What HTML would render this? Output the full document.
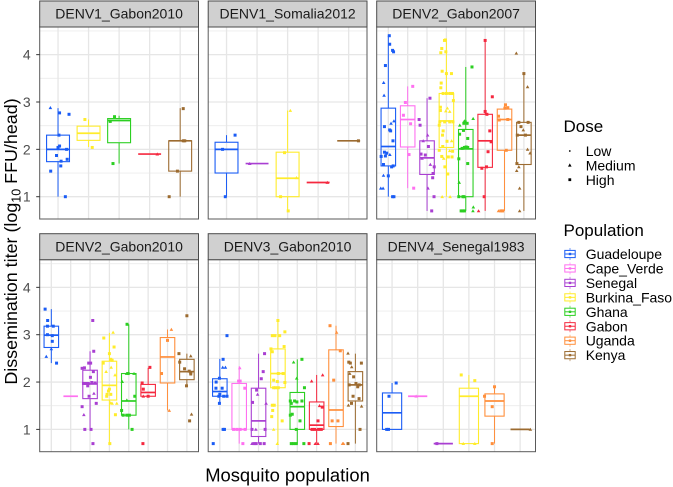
<!DOCTYPE html>
<html lang="en">
<head>
<meta charset="utf-8">
<title>Dissemination titer by mosquito population</title>
<style>
html,body{margin:0;padding:0;background:#fff;width:673px;height:487px;overflow:hidden}
svg{display:block}
text{font-family:"Liberation Sans",sans-serif}
</style>
</head>
<body>
<svg id="chart" xmlns="http://www.w3.org/2000/svg" width="673" height="487" viewBox="0 0 673 487">
  <rect width="673" height="487" fill="#fff"/>
  <g id="panels"></g>
  <text transform="translate(17,241.5) rotate(-90)" text-anchor="middle" font-size="17.9" fill="#000">Dissemination titer (log<tspan font-size="12.5" dy="3.5">10</tspan><tspan dy="-3.5"> FFU/head)</tspan></text>
  <text x="287.5" y="481.5" text-anchor="middle" font-size="18.4" fill="#000">Mosquito population</text>
  <g id="dose-legend">
    <text x="563.5" y="132" font-size="17">Dose</text>
    <circle cx="569.8" cy="151" r="0.9" fill="#000"/>
    <text x="585.7" y="156" font-size="14">Low</text>
    <polygon points="568,166.6 571.6,166.6 569.8,163.4" fill="#000"/>
    <text x="585.7" y="170.5" font-size="14">Medium</text>
    <rect x="568.4" y="178.3" width="2.8" height="2.8" fill="#000"/>
    <text x="585.7" y="185" font-size="14">High</text>
  </g>
  <g id="pop-legend">
    <text x="563.5" y="236" font-size="17">Population</text>
  </g>
</svg>
<script>
const populations = ["Guadeloupe","Cape_Verde","Senegal","Burkina_Faso","Ghana","Gabon","Uganda","Kenya"];
const popColors = ["#1a5cf5","#ff70f0","#a93fd2","#ffec2b","#2ccf22","#f5283f","#ff8f3c","#9c6b30"];
const yTicks = [1,2,3,4];
const yMinor = [1.5,2.5,3.5,4.5];
const facetNames = ["DENV1_Gabon2010","DENV1_Somalia2012","DENV2_Gabon2007","DENV2_Gabon2010","DENV3_Gabon2010","DENV4_Senegal1983"];

/* category indices shown on each facet */
const cats1 = [0,3,4,5,7];
const cats2 = [0,2,3,5,7];
const cats3 = [0,1,2,3,4,5,6,7];
const cats4 = [0,1,2,3,4,5,6,7];
const cats5 = [0,1,2,3,4,5,6,7];
const cats6 = [0,1,2,3,6,7];

/* box statistics: whisker low, q1, median, q3, whisker high (log10 titer) */
const stats1 = [[1,1.74,2,2.3,2.87],[2.05,2.19,2.34,2.49,2.63],[1.7,2.14,2.61,2.65,2.71],[1.9,1.9,1.9,1.9,1.9],[1,1.54,2.18,2.18,2.87]];
const stats2 = [[1,1.5,2,2.15,2.3],[1.7,1.7,1.7,1.7,1.7],[0.7,1,1.39,1.94,2.82],[1.3,1.3,1.3,1.3,1.3],[2.18,2.18,2.18,2.18,2.18]];
const stats3 = [[1,1.65,2.06,2.87,4.4],[1.18,2.05,2.63,2.92,3.33],[0.7,1.47,1.82,2.18,3.08],[1,2.04,2.6,3.18,4.31],[0.7,1,2.01,2.42,3.74],[0.7,1.62,2.18,2.74,4.3],[0.7,1.98,2.63,2.85,2.94],[0.7,1.68,2.3,2.57,3.6]];
const stats4 = [[2.4,2.73,2.99,3.18,3.54],[1.7,1.7,1.7,1.7,1.7],[1,1.65,1.96,2.25,2.65],[0.7,1.62,1.93,2.44,3.04],[1,1.3,1.6,2.18,3.22],[1.7,1.7,1.78,1.95,2.3],[1.4,1.98,2.53,2.94,3.11],[1.92,2.05,2.22,2.48,2.6]];
const stats5 = [[1.55,1.7,1.8,2.07,2.49],[0.7,1,1,1.97,2.33],[0.7,0.85,1.18,1.87,2.6],[0.7,1.88,2.18,2.7,3.3],[0.7,1,1.48,1.78,2.48],[0.7,1,1.09,1.58,2.15],[0.7,1.06,1.41,2.68,3.19],[0.7,1.6,1.94,2.22,2.6]];
const stats6 = [[1,1,1.35,1.77,1.98],[1.7,1.7,1.7,1.7,1.7],[0.7,0.7,0.7,0.7,0.7],[0.7,0.7,1.7,1.87,2.15],[0.7,1.28,1.6,1.75,1.9],[1,1,1,1,1]];

/* observations: [jitter in category units, log10 titer, dose (2 = high, 1 = medium)] */
const obs1 = [
 [[-.25,2.88,1],[.05,2.77,2],[.36,2.74,2],[.03,2.3,2],[.05,2.07,2],[0,2.04,2],[-.05,1.87,2],[.28,2,2],[.3,1.79,2],[.1,1.75,2],[.09,1.65,2],[-.24,1.54,2],[.24,1,2]],
 [[-.12,2.63,2],[.12,2.04,2]],
 [[-.2,1.7,2],[-.15,2.69,2],[-.29,2.59,2]],
 [[.25,1.9,1]],
 [[.1,2.86,2],[.1,2.18,2],[.15,2.18,2],[-.09,1.54,2],[-.36,1,2]]
];
const obs2 = [
 [[.28,2.3,2],[-.13,2,2],[-.04,1,2]],
 [[-.24,1.7,1]],
 [[.09,2.82,1],[-.1,1.93,2],[.29,1.4,1],[-.23,1,2],[.02,.7,2]],
 [[.3,1.3,1]],
 [[.32,2.18,2]]
];
const obs3 = [
 [[.05,4.4,2],[.07,4.22,2],[.22,4.09,2],[.27,4.06,2],[-.15,3.77,2],[-.24,3.41,1],[-.22,3.14,1],[.29,2.6,1],[.14,2.55,1],[-.2,2.48,2],[.07,2.41,2],[.12,2.39,2],[.24,2.18,2],[-.2,1.94,2],[-.08,1.92,2],[.08,1.89,1],[-.15,1.86,2],[-.37,1.85,2],[-.25,1.68,2],[.17,1.63,2],[.25,1.65,2],[-.25,1.45,1],[0,1.44,2],[-.39,1.18,1],[-.27,1.18,1],[.22,1,2],[.29,1,2]],
 [[.26,3.33,2],[-.12,2.99,2],[-.22,2.72,2],[.15,2.54,2],[.07,1.89,2],[.31,1.18,2]],
 [[.15,3.08,2],[-.41,2.63,2],[-.36,2.51,2],[.03,2.3,1],[-.2,2.18,1],[.07,2.06,2],[-.31,1.9,2],[-.09,1.88,2],[-.26,1.81,1],[.17,1.68,1],[.37,1.63,2],[.31,1.49,2],[.29,1.4,2],[.05,1.18,1],[.36,1,2],[.24,.7,2]],
 [[-.1,4.3,2],[-.05,4.31,2],[-.24,4.13,2],[-.29,4.04,2],[-.03,4.06,2],[-.22,3.65,2],[0,3.6,2],[.26,3.6,2],[-.27,3.4,2],[-.29,3.3,2],[-.17,3.18,2],[0,3.18,2],[.17,3.18,2],[.31,3.18,2],[.36,3.03,2],[-.31,2.89,2],[.05,2.87,1],[-.31,2.82,2],[.17,2.8,1],[-.03,2.81,1],[-.34,2.58,2],[-.37,2.51,2],[-.09,2.58,2],[.17,2.58,2],[.34,2.58,2],[-.17,2.39,2],[-.2,2.3,2],[.27,2.18,1],[.03,2.17,2],[-.19,2.06,2],[-.37,1.98,2],[.17,1.97,1],[.32,1.96,2],[-.24,1.85,2],[-.14,1.81,1],[.1,1.84,2],[.29,1.84,2],[-.08,1.63,2],[.07,1.48,2],[-.22,1,1],[.19,1,1]],
 [[.32,3.74,2],[.38,2.65,1],[-.31,2.51,1],[-.07,2.6,1],[.07,2.55,2],[-.1,2.55,2],[-.03,2.58,2],[-.12,2.4,2],[-.32,2.32,2],[.1,2.23,2],[-.07,2.04,2],[.02,2.05,2],[.1,2.04,2],[-.19,2.02,2],[-.36,1.8,2],[.1,1.7,2],[-.34,1.3,1],[-.15,1,2],[-.09,1,2],[-.36,1,2],[-.24,.7,2],[-.15,.7,2],[-.07,.7,2],[.39,.78,1],[.37,.7,1]],
 [[0,4.3,2],[.37,3.11,2],[0,2.8,2],[.09,2.74,2],[.24,2.39,2],[.31,2.16,2],[.15,1.95,2],[.07,1.63,2],[-.17,1.6,2],[-.05,1,2],[-.34,.7,1]],
 [[.05,2.94,2],[.17,2.88,2],[.02,2.87,2],[-.31,2.7,2],[-.27,2.62,2],[.17,2.63,2],[.09,1.98,2],[-.31,.7,1],[-.19,.7,2],[-.09,.7,2]],
 [[-.39,4.03,1],[0,3.6,2],[.19,3.32,1],[-.26,2.57,2],[.22,2.57,2],[-.15,2.48,2],[-.03,2.41,1],[-.34,2.3,2],[.08,2.3,2],[.19,2,1],[.32,1.92,1],[-.26,1.63,1],[-.36,1.7,2],[-.37,1.55,1],[-.22,1.18,1],[-.22,.7,1]]
];
const obs4 = [
 [[-.32,3.54,2],[-.19,3.3,2],[-.2,3.18,2],[.1,3.18,2],[-.2,3,2],[.05,2.98,2],[.05,2.86,2],[0,2.7,1],[-.26,2.54,1],[.27,2.4,2]],
 [],
 [[.14,3.3,2],[.19,2.65,2],[-.07,2.4,2],[.03,2.4,2],[-.41,2.29,2],[-.29,2.3,2],[.17,2.22,2],[.02,2.1,2],[-.34,1.97,2],[-.22,1.97,2],[-.09,1.97,2],[.09,1.99,2],[.26,1.98,2],[-.12,1.92,2],[.2,1.76,1],[-.05,1.7,2],[.32,1.55,2],[-.41,1.48,2],[-.32,1.31,1],[-.27,1,2],[.05,1,2],[.15,.7,2]],
 [[-.29,2.93,2],[.19,3.05,1],[.24,2.74,2],[0,2.6,2],[.07,2.48,2],[.14,2.46,2],[-.32,2.4,2],[-.17,2.22,1],[.09,2.31,1],[.29,2.15,1],[0,1.85,2],[-.05,1.81,2],[-.12,1.74,2],[.07,1.74,2],[-.14,1.7,2],[.07,1.56,1],[.38,1.55,1],[.14,1.55,1],[.31,1.31,2],[.02,.7,2]],
 [[-.09,3.22,2],[-.34,2.01,1],[-.12,2.18,1],[-.03,2.18,2],[.27,2.18,1],[.31,1.7,2],[-.1,1.62,1],[-.37,1.4,2],[-.29,1.3,2],[-.1,1.3,2],[.03,1.3,2],[.17,1,2]],
 [[.09,2.31,2],[-.31,1.98,2],[-.25,1.85,2],[-.25,1.7,1],[0,1.7,2],[-.27,.7,2]],
 [[.2,3.11,1],[0,2.88,2],[-.31,2.18,2],[.09,1.4,1]],
 [[0,3.4,2],[-.41,2.6,2],[.2,2.55,1],[-.37,2.42,2],[-.12,2.28,2],[.12,2.23,2],[.2,2.2,2],[.2,2.17,2],[-.02,1.92,2],[.24,1.32,1],[.14,1.18,2]]
];
const obs5 = [
 [[.37,2.98,2],[.17,2.48,2],[.15,2.31,1],[.29,2.31,1],[-.02,2.08,2],[-.19,2,2],[-.2,1.87,2],[.12,1.87,2],[0,1.74,2],[.2,1.7,2],[.37,1.7,2],[-.05,1.7,2],[-.02,1.55,2],[.17,1,2],[.24,1,2],[-.34,.7,2]],
 [[.03,2.3,1],[.05,2.02,2],[-.03,2.02,2],[.29,1.87,2],[-.29,1,2],[-.12,1,2],[.05,1,2],[.31,1,2],[.19,.7,2]],
 [[.31,2.6,2],[.24,2.22,2],[.14,2.07,2],[-.1,1.83,2],[-.05,1.74,1],[-.31,1.57,2],[.39,1.55,1],[-.34,1,2],[.34,1,2],[-.14,1,1],[-.34,.7,1],[-.24,.7,2],[-.12,.7,2],[.09,.7,2],[.29,.7,2]],
 [[0,3.3,2],[-.29,2.98,2],[-.15,2.98,2],[.09,2.98,2],[.36,3.06,2],[.32,2.75,2],[-.36,2.7,2],[-.29,2.64,2],[.02,2.18,2],[.27,2.18,2],[-.22,2.04,2],[-.03,2.01,2],[.36,1.99,2],[-.22,1.88,2],[-.12,1.88,2],[.02,1.88,2],[-.29,1.51,2],[-.19,1.51,2],[-.27,1.4,2],[-.32,1.27,2],[.22,1.18,2],[-.22,1,1],[-.03,.7,1]],
 [[.24,2.48,2],[-.19,2.42,1],[-.03,2.08,1],[.37,1.88,2],[-.36,1.6,2],[-.14,1.6,2],[-.02,1.58,2],[-.31,1.55,2],[.24,1.6,2],[-.26,1.32,2],[.14,1.18,2],[-.36,1.3,2],[-.05,1,2],[-.31,.7,2],[-.19,.7,2],[-.05,.7,2],[.34,.7,2]],
 [[.31,2.15,1],[-.26,2.02,1],[.29,1.47,2],[.15,1.5,1],[.07,1.18,2],[-.24,1,2],[-.1,1,2],[.1,1,2],[.24,1,2],[-.39,.7,2],[-.07,.7,1],[.07,.7,1]],
 [[-.31,3.19,2],[.03,3.05,1],[.22,2.66,2],[-.12,2.04,2],[-.2,1.18,2],[.1,1.18,2],[-.29,.7,2],[.34,.7,1],[.39,.7,1]],
 [[-.38,2.61,1],[-.34,2.42,2],[-.26,2.4,2],[.31,2.4,2],[-.19,2.32,1],[-.29,2.18,1],[-.09,2.11,2],[.03,1.97,2],[.2,1.94,2],[-.32,1.94,2],[.12,1.9,2],[-.12,1.7,2],[.19,1.65,2],[-.2,1.55,2],[-.36,1.51,1],[.32,1.49,1],[.24,1,2],[-.38,.7,2]]
];
const obs6 = [
 [[.16,1.98,2],[-.12,1.7,2],[-.21,1,2],[-.14,1,2]],
 [[-.06,1.7,1]],
 [[-.25,.7,2]],
 [[-.3,2.15,2],[.23,2.03,2],[-.22,.7,1],[.23,.7,1]],
 [[0,1.9,2],[-.39,1.7,2],[-.09,1.48,2],[-.09,.7,2]],
 [[.4,1,1]]
];

const facetCats = [cats1,cats2,cats3,cats4,cats5,cats6];
const facetStats = [stats1,stats2,stats3,stats4,stats5,stats6];
const facetObs = [obs1,obs2,obs3,obs4,obs5,obs6];

const NS = "http://www.w3.org/2000/svg";
const PANEL_W = 158.8, PANEL_H = 192, STRIP_H = 26;
const PANEL_X = [39.7,208.2,376.7];
const PANEL_Y = [27,259.7];
const Y_MIN = 0.529, PX_PER_UNIT = 47.35;

function make(parent, tag, attrs){
  const node = document.createElementNS(NS, tag);
  for (const k in attrs) node.setAttribute(k, attrs[k]);
  parent.appendChild(node);
  return node;
}
function yScale(v, top){ return top + PANEL_H - (v - Y_MIN) * PX_PER_UNIT; }
function xScale(pos, n, left){ return left + (pos + 1 - 0.4) / (n + 0.2) * PANEL_W; }

const root = document.getElementById("panels");

facetNames.forEach(function(name, f){
  const col = f % 3, row = Math.floor(f / 3);
  const left = PANEL_X[col], top = PANEL_Y[row];
  const cats = facetCats[f], stats = facetStats[f], obs = facetObs[f];
  const n = cats.length;
  const g = make(root, "g", {});
  
  

  const bg = make(g, "rect", {x:left, y:top, width:PANEL_W, height:PANEL_H, fill:"#fff"});
  
  

  yMinor.forEach(function(v){
    const ln = make(g, "line", {x1:left, x2:left+PANEL_W, y1:yScale(v,top), y2:yScale(v,top), stroke:"#ececec", "stroke-width":0.9});
    
    
  });
  yTicks.forEach(function(v){
    const ln = make(g, "line", {x1:left, x2:left+PANEL_W, y1:yScale(v,top), y2:yScale(v,top), stroke:"#e6e6e6", "stroke-width":1.3});
    
    
  });
  cats.forEach(function(c, i){
    const x = xScale(i, n, left);
    const ln = make(g, "line", {x1:x, x2:x, y1:top, y2:top+PANEL_H, stroke:"#e6e6e6", "stroke-width":1.3});
    
    
  });

  cats.forEach(function(c, i){
    const color = popColors[c];
    const x = xScale(i, n, left);
    const hw = 0.375 / (n + 0.2) * PANEL_W;
    const s = stats[i];
    const box = make(g, "g", {});
    
    

    const wl = make(box, "line", {x1:x, x2:x, y1:yScale(s[0],top), y2:yScale(s[1],top), stroke:color, "stroke-width":1});
    
    
    const wh = make(box, "line", {x1:x, x2:x, y1:yScale(s[3],top), y2:yScale(s[4],top), stroke:color, "stroke-width":1});
    
    
    const rc = make(box, "rect", {x:x-hw, y:yScale(s[3],top), width:2*hw, height:Math.max(0,yScale(s[1],top)-yScale(s[3],top)), fill:"none", stroke:color, "stroke-width":1.1});
    
    
    const md = make(box, "line", {x1:x-hw, x2:x+hw, y1:yScale(s[2],top), y2:yScale(s[2],top), stroke:color, "stroke-width":1.7});
    
    

    obs[i].forEach(function(p){
      const px = xScale(i + p[0], n, left), py = yScale(p[1], top);
      if (p[2] === 1) {
        const tri = make(box, "polygon", {points:(px-1.8)+","+(py+1.4)+" "+(px+1.8)+","+(py+1.4)+" "+px+","+(py-1.7), fill:color});
        
        
      } else {
        const sq = make(box, "rect", {x:px-1.5, y:py-1.5, width:3, height:3, fill:color});
        
        
      }
    });
  });

  const border = make(g, "rect", {x:left, y:top, width:PANEL_W, height:PANEL_H, fill:"none", stroke:"#5a5a5a", "stroke-width":1});
  
  

  const strip = make(g, "rect", {x:left, y:top-STRIP_H, width:PANEL_W, height:STRIP_H, fill:"#d0d0d0", stroke:"#4a4a4a", "stroke-width":1});
  
  
  const label = make(g, "text", {x:left+PANEL_W/2, y:top-8.4, "text-anchor":"middle", "font-size":14, fill:"#1a1a1a"});
  label.textContent = name;
  
  

  if (col === 0) {
    yTicks.forEach(function(v){
      const y = yScale(v, top);
      const tick = make(g, "line", {x1:left-3.5, x2:left, y1:y, y2:y, stroke:"#333", "stroke-width":1});
      
      
      const tl = make(g, "text", {x:left-9, y:y+5, "text-anchor":"end", "font-size":14, fill:"#4d4d4d"});
      tl.textContent = String(v);
      
      
    });
  }
});

const legendRoot = document.getElementById("pop-legend");
populations.forEach(function(name, i){
  const cy = 254 + i * 14.45;
  const color = popColors[i];
  const g = make(legendRoot, "g", {});
  
  
  const w = make(g, "line", {x1:570, x2:570, y1:cy-6, y2:cy+6, stroke:color, "stroke-width":0.8, opacity:0.75});
  
  
  const r = make(g, "rect", {x:564.8, y:cy-3.6, width:10.4, height:7.2, fill:"#fff", stroke:color, "stroke-width":1});
  
  
  const m = make(g, "line", {x1:564.8, x2:575.2, y1:cy, y2:cy, stroke:color, "stroke-width":1});
  
  
  const d = make(g, "rect", {x:568.8, y:cy-1.2, width:2.4, height:2.4, fill:color});
  
  
  const t = make(g, "text", {x:585.7, y:cy+5, "font-size":14, fill:"#000"});
  t.textContent = name;
  
  
});
</script>
</body>
</html>
